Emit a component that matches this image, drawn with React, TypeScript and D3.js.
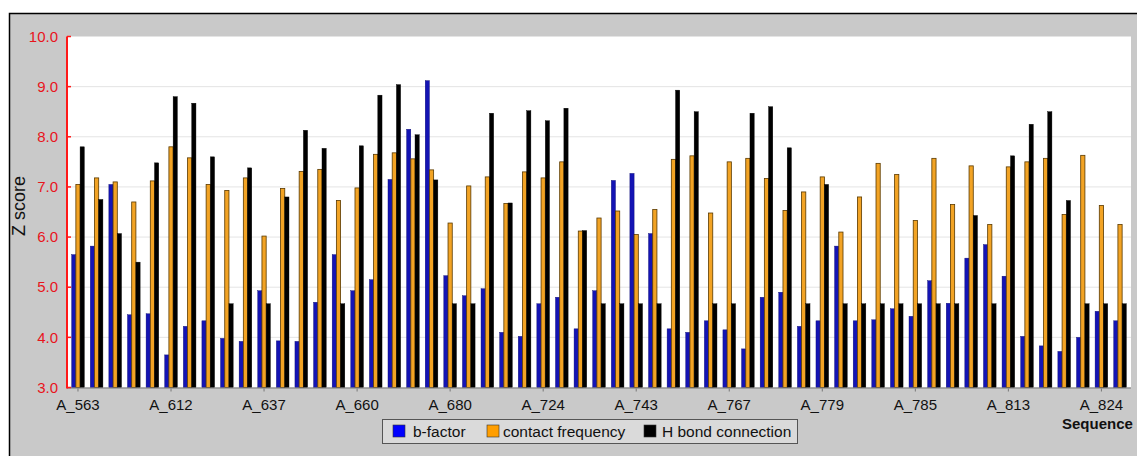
import React from "react";
import * as d3 from "d3";

const bFactor = [5.65, 5.82, 7.05, 4.45, 4.47, 3.65, 4.22, 4.33, 3.98, 3.92, 4.93, 3.93, 3.92, 4.7, 5.65, 4.93, 5.15, 7.15, 8.15, 9.12, 5.23, 4.83, 4.97, 4.1, 4.02, 4.67, 4.8, 4.17, 4.93, 7.13, 7.27, 6.07, 4.17, 4.1, 4.33, 4.15, 3.77, 4.8, 4.9, 4.22, 4.33, 5.82, 4.33, 4.35, 4.57, 4.42, 5.13, 4.68, 5.58, 5.85, 5.22, 4.02, 3.83, 3.72, 4.0, 4.52, 4.33];
const contactFrequency = [7.05, 7.18, 7.1, 6.7, 7.12, 7.8, 7.58, 7.05, 6.93, 7.18, 6.02, 6.97, 7.31, 7.35, 6.73, 6.98, 7.65, 7.68, 7.56, 7.34, 6.28, 7.02, 7.2, 6.67, 7.3, 7.18, 7.5, 6.12, 6.38, 6.52, 6.05, 6.55, 7.55, 7.62, 6.48, 7.5, 7.57, 7.17, 6.53, 6.9, 7.2, 6.1, 6.8, 7.47, 7.25, 6.33, 7.57, 6.65, 7.42, 6.25, 7.4, 7.5, 7.57, 6.45, 7.63, 6.63, 6.25];
const hBond = [7.8, 6.75, 6.07, 5.5, 7.48, 8.8, 8.67, 7.6, 4.67, 7.38, 4.67, 6.8, 8.13, 7.77, 4.67, 7.82, 8.83, 9.04, 8.04, 7.14, 4.67, 4.67, 8.47, 6.68, 8.52, 8.32, 8.57, 6.13, 4.67, 4.67, 4.67, 4.67, 8.93, 8.5, 4.67, 4.67, 8.47, 8.6, 7.78, 4.67, 7.05, 4.67, 4.67, 4.67, 4.67, 4.67, 4.67, 4.67, 6.43, 4.67, 7.62, 8.25, 8.5, 6.73, 4.67, 4.67, 4.67];
const tickLabels = ["A_563", "A_612", "A_637", "A_660", "A_680", "A_724", "A_743", "A_767", "A_779", "A_785", "A_813", "A_824"];
const tickGroupIndex = [0, 5, 10, 15, 20, 25, 30, 35, 40, 45, 50, 55];
const yTicks = [3, 4, 5, 6, 7, 8, 9, 10];
const seriesNames = ["b-factor", "contact frequency", "H bond connection"];

const W = 1137;
const H = 456;
const left = 67;
const right = 1131;
const top = 36.5;
const bottom = 387.5;
const FONT = "'Liberation Sans', Arial, sans-serif";

const colors = ["#1414b4", "#f2a324", "#000000"];
const strokes = ["#0a0a70", "#5a3a00", "#000000"];

export default function App() {
  const series = [bFactor, contactFrequency, hBond];
  const groups = d3.range(bFactor.length);
  const x = d3.scaleBand<number>().domain(groups).range([left, right]).paddingInner(0.32).paddingOuter(0.25);
  const inner = d3.scaleBand<number>().domain([0, 1, 2]).range([0, x.bandwidth()]);
  const y = d3.scaleLinear().domain([3, 10]).range([bottom, top]);

  const legendItems = [
    { x: 393, tx: 413 },
    { x: 487, tx: 503 },
    { x: 644, tx: 662 },
  ];

  return (
    <svg width={W} height={H} style={{ position: "absolute", left: 0, top: 0, fontFamily: FONT }}>
      <rect x={0} y={0} width={W} height={H} fill="#ffffff" />
      <rect x={9.5} y={13.5} width={W + 10} height={H + 10} fill="#c9c9c9" stroke="#000" strokeWidth={1.5} />
      <rect x={left} y={top} width={right - left} height={bottom - top} fill="#ffffff" />
      {yTicks.slice(1, -1).map((t) => (
        <line key={t} x1={left} x2={right} y1={y(t)} y2={y(t)} stroke="#e4e4e4" strokeWidth={1} />
      ))}
      {series.map((vals, si) =>
        vals.map((v, i) => (
          <rect
            key={`${si}-${i}`}
            x={(x(i) as number) + (inner(si) as number)}
            y={y(v)}
            width={inner.bandwidth()}
            height={y(3) - y(v)}
            fill={colors[si]}
            stroke={strokes[si]}
            strokeWidth={si === 1 ? 0.8 : 0.4}
          />
        ))
      )}
      <line x1={left} x2={right} y1={bottom + 0.5} y2={bottom + 0.5} stroke="#777" strokeWidth={1} />
      <line x1={left} x2={left} y1={top} y2={bottom + 1} stroke="#ff1a1a" strokeWidth={2} />
      {yTicks.map((t) => (
        <g key={t}>
          <line x1={left} x2={left + 4} y1={y(t)} y2={y(t)} stroke="#ff1a1a" strokeWidth={1.5} />
          <text x={58} y={y(t)} dy="0.35em" textAnchor="end" fill="#e8141c" fontSize={15}>
            {d3.format(".1f")(t)}
          </text>
        </g>
      ))}
      {tickLabels.map((lab, k) => {
        const cx = (x(tickGroupIndex[k]) as number) + x.bandwidth() / 2;
        return (
          <g key={lab}>
            <line x1={cx} x2={cx} y1={bottom + 1} y2={bottom + 4} stroke="#777" />
            <text x={cx} y={410} textAnchor="middle" fill="#111" fontSize={15}>
              {lab}
            </text>
          </g>
        );
      })}
      <text transform="translate(25,206) rotate(-90)" textAnchor="middle" fill="#111" fontSize={18}>
        Z score
      </text>
      <text x={1062} y={429} fill="#111" fontSize={15} fontWeight="bold">
        Sequence
      </text>
      <rect x={382.5} y={419.5} width={415} height={24} fill="#dadada" stroke="#555" strokeWidth={1} />
      {seriesNames.map((name, i) => (
        <g key={name}>
          <rect x={legendItems[i].x} y={425} width={12} height={12} fill={i === 0 ? "#0000ff" : i === 1 ? "#ff9e00" : "#000"} stroke="#333" strokeWidth={0.6} />
          <text x={legendItems[i].tx} y={436.5} fill="#111" fontSize={15.5}>
            {name}
          </text>
        </g>
      ))}
    </svg>
  );
}
